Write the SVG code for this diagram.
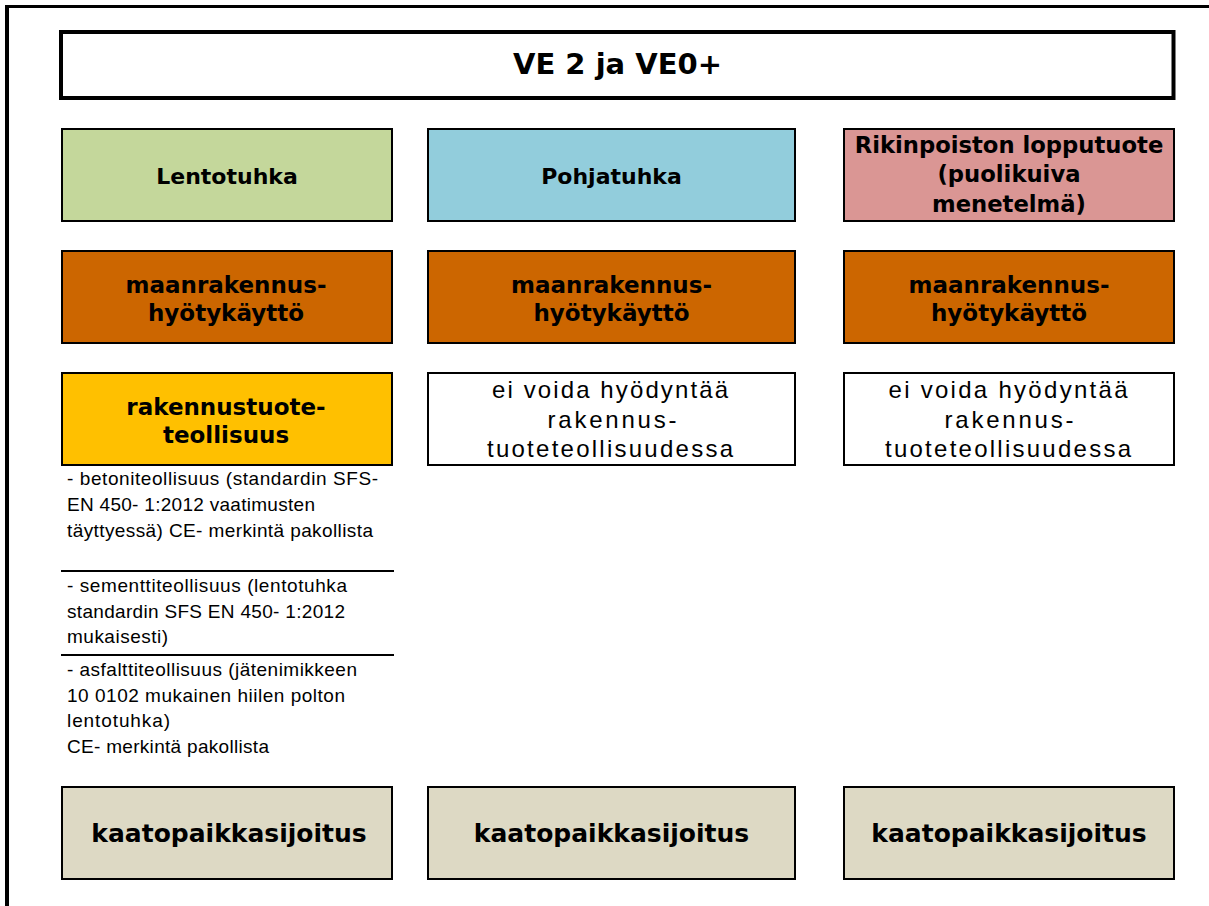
<svg xmlns="http://www.w3.org/2000/svg" width="1209" height="906" viewBox="0 0 1209 906">
<style>
.box{stroke:#000;stroke-width:2}
.b{font-family:"DejaVu Sans",Verdana,sans-serif;font-weight:bold;fill:#000;text-anchor:middle}
.r{font-family:"Liberation Sans",Arial,sans-serif;fill:#000;text-anchor:middle;font-size:24px}
.l{font-family:"Liberation Sans",Arial,sans-serif;fill:#000;font-size:19px}
</style>
<rect x="0" y="0" width="1209" height="906" fill="#fff"/>
<g id="frame" fill="none" stroke="#000">
<line x1="7" y1="6.5" x2="1209" y2="6.5" stroke-width="3"/>
<line x1="7" y1="5" x2="7" y2="906" stroke-width="4"/>
</g>
<g id="title">
<rect x="61" y="32" width="1112.5" height="66" fill="#fff" stroke="#000" stroke-width="4"/>
<text class="b" x="617.5" y="74" font-size="29">VE 2 ja VE0+</text>
</g>
<g id="lentotuhka">
<rect class="box" x="62" y="129" width="330" height="92" fill="#C4D79B"/>
<text class="b" x="227" y="184" font-size="22">Lentotuhka</text>
</g>
<g id="pohjatuhka">
<rect class="box" x="428" y="129" width="367" height="92" fill="#92CDDC"/>
<text class="b" x="611.5" y="184" font-size="22">Pohjatuhka</text>
</g>
<g id="rikinpoisto">
<rect class="box" x="844" y="129" width="330" height="92" fill="#DA9694"/>
<text class="b" x="1009" y="153" font-size="22.7">Rikinpoiston lopputuote</text>
<text class="b" x="1009" y="182" font-size="22.7">(puolikuiva</text>
<text class="b" x="1009" y="212" font-size="22.7">menetelmä)</text>
</g>
<g id="maanrakennus1">
<rect class="box" x="62" y="251" width="330" height="92" fill="#CC6600"/>
<text class="b" x="226" y="293" font-size="23">maanrakennus-</text>
<text class="b" x="226" y="321" font-size="23">hyötykäyttö</text>
</g>
<g id="maanrakennus2">
<rect class="box" x="428" y="251" width="367" height="92" fill="#CC6600"/>
<text class="b" x="611.5" y="293" font-size="23">maanrakennus-</text>
<text class="b" x="611.5" y="321" font-size="23">hyötykäyttö</text>
</g>
<g id="maanrakennus3">
<rect class="box" x="844" y="251" width="330" height="92" fill="#CC6600"/>
<text class="b" x="1009" y="293" font-size="23">maanrakennus-</text>
<text class="b" x="1009" y="321" font-size="23">hyötykäyttö</text>
</g>
<g id="rakennustuote">
<rect class="box" x="62" y="373" width="330" height="92" fill="#FFC000"/>
<text class="b" x="226" y="415" font-size="23">rakennustuote-</text>
<text class="b" x="226" y="443" font-size="23">teollisuus</text>
</g>
<g id="ei-voida2">
<rect class="box" x="428" y="373" width="367" height="92" fill="#fff"/>
<text class="r" x="610" y="398" textLength="236" lengthAdjust="spacing">ei voida hyödyntää</text>
<text class="r" x="612" y="428" textLength="129" lengthAdjust="spacing">rakennus-</text>
<text class="r" x="610" y="457" textLength="246" lengthAdjust="spacing">tuoteteollisuudessa</text>
</g>
<g id="ei-voida3">
<rect class="box" x="844" y="373" width="330" height="92" fill="#fff"/>
<text class="r" x="1008" y="398" textLength="239" lengthAdjust="spacing">ei voida hyödyntää</text>
<text class="r" x="1009" y="428" textLength="129" lengthAdjust="spacing">rakennus-</text>
<text class="r" x="1008" y="457" textLength="246" lengthAdjust="spacing">tuoteteollisuudessa</text>
</g>
<g id="kayttokohteet">
<text class="l" x="67" y="485" textLength="311" lengthAdjust="spacing">- betoniteollisuus (standardin SFS-</text>
<text class="l" x="67" y="511" textLength="248" lengthAdjust="spacing">EN 450- 1:2012 vaatimusten</text>
<text class="l" x="67" y="537" textLength="306" lengthAdjust="spacing">täyttyessä) CE- merkintä pakollista</text>
<line x1="61" y1="571" x2="394" y2="571" stroke="#000" stroke-width="2"/>
<text class="l" x="67" y="592" textLength="280" lengthAdjust="spacing">- sementtiteollisuus (lentotuhka</text>
<text class="l" x="67" y="618" textLength="278" lengthAdjust="spacing">standardin SFS EN 450- 1:2012</text>
<text class="l" x="67" y="643" textLength="101" lengthAdjust="spacing">mukaisesti)</text>
<line x1="61" y1="655" x2="394" y2="655" stroke="#000" stroke-width="2"/>
<text class="l" x="67" y="676" textLength="290" lengthAdjust="spacing">- asfalttiteollisuus (jätenimikkeen</text>
<text class="l" x="67" y="702" textLength="278" lengthAdjust="spacing">10 0102 mukainen hiilen polton</text>
<text class="l" x="67" y="727" textLength="103" lengthAdjust="spacing">lentotuhka)</text>
<text class="l" x="67" y="753" textLength="202" lengthAdjust="spacing">CE- merkintä pakollista</text>
</g>
<g id="kaatopaikka1">
<rect class="box" x="62" y="787" width="330" height="92" fill="#DDD9C4"/>
<text class="b" x="229" y="842" font-size="25">kaatopaikkasijoitus</text>
</g>
<g id="kaatopaikka2">
<rect class="box" x="428" y="787" width="367" height="92" fill="#DDD9C4"/>
<text class="b" x="611.5" y="842" font-size="25">kaatopaikkasijoitus</text>
</g>
<g id="kaatopaikka3">
<rect class="box" x="844" y="787" width="330" height="92" fill="#DDD9C4"/>
<text class="b" x="1009" y="842" font-size="25">kaatopaikkasijoitus</text>
</g>
<g id="connectors"/>
</svg>
